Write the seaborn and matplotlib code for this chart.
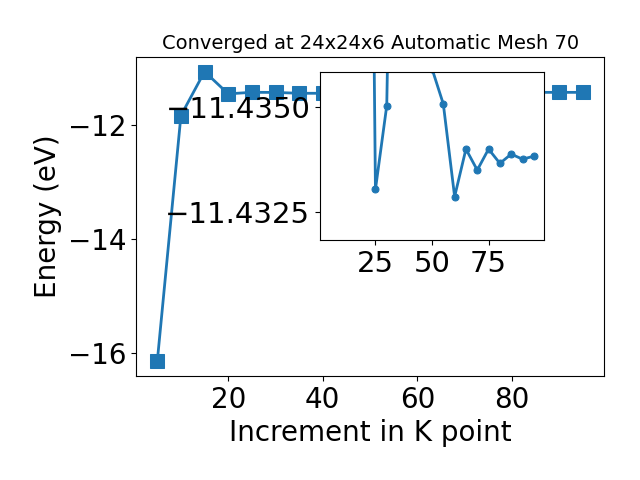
import numpy as np
import pandas as pd
import matplotlib
matplotlib.use("Agg")
import matplotlib.pyplot as plt
import seaborn as sns

kpts = [5, 10, 15, 20, 25, 30, 35, 40, 45, 50, 55, 60, 65, 70, 75, 80, 85, 90, 95]
energy = [-16.15, -11.84, -11.07, -11.46, -11.43303, -11.43502, -11.45, -11.45,
          -11.45, -11.4359, -11.43506, -11.43286, -11.43399, -11.43349, -11.43399,
          -11.43365, -11.43387, -11.43375, -11.43382]
inset_ylim = (-11.43183, -11.43582)
inset_yticks = [-11.4350, -11.4325]
df = pd.DataFrame({"k": kpts, "E": energy})
# zoomed part starts at 20 kpoints
dfz = df[df["k"] >= 20]

fig, ax = plt.subplots(figsize=(6.4, 4.8), dpi=100)
sns.lineplot(data=df, x="k", y="E", marker="s", markersize=10, linewidth=2,
             color="#1f77b4", markeredgecolor="#1f77b4", ax=ax)
ax.set_xlabel("Increment in K point", fontsize=20)
ax.set_ylabel("Energy (eV)", fontsize=20)
ax.set_title("Converged at 24x24x6 Automatic Mesh 70", fontsize=14)
ax.tick_params(labelsize=20)
fig.subplots_adjust(left=0.2125, right=0.944, top=0.881, bottom=0.217)

axins = fig.add_axes([0.5, 0.5, 0.35, 0.35])
sns.lineplot(data=dfz, x="k", y="E", marker="o", markersize=5, linewidth=2,
             color="#1f77b4", markeredgecolor="#1f77b4", ax=axins)
axins.set_xlim(ax.get_xlim())
axins.set_yticks(inset_yticks)
axins.set_ylim(*inset_ylim)
axins.ticklabel_format(axis="y", useOffset=False)
axins.set_xlabel("")
axins.set_ylabel("")
axins.tick_params(labelsize=21)

plt.savefig("out.png", dpi=100)
